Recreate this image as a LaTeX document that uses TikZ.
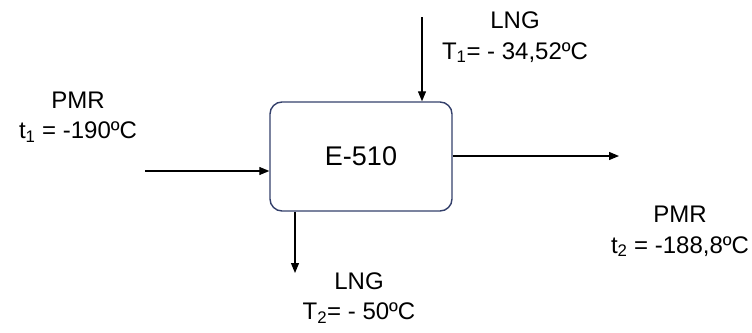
\documentclass[tikz,border=0pt]{standalone}
\usepackage{fontspec}
\setmainfont{Liberation Sans}
\usepackage{tikz}
\usetikzlibrary{arrows.meta}
\definecolor{boxline}{RGB}{52,64,107}
\tikzset{
  hx/.style={draw=boxline, line width=1.4pt, rounded corners=12pt, minimum width=182pt, minimum height=109pt, inner sep=0pt, font=\fontsize{27}{30}\selectfont},
  flow/.style={line width=1.2pt, -{Triangle[length=10pt,width=8pt]}},
  txt/.style={align=center, inner sep=0pt, font=\fontsize{24}{30.5}\selectfont}
}

\begin{document}
\begin{tikzpicture}[x=1pt,y=-1pt]
		\useasboundingbox (0,0) rectangle (752,332);
		\node[hx] (E) at (361,156.5) {E-510};
		\coordinate (in1) at (145,171);
		\coordinate (in2) at (422,17);
		\coordinate (out1) at (619,156);
		\coordinate (out2) at (295,273);
		% corrientes
		\draw[flow] (in1) -- (in1 -| E.west);
		\draw[flow] (in2) -- (in2 |- E.north);
		\draw[flow] (out1 -| E.east) -- (out1);
		\draw[flow] (out2 |- E.south) -- (out2);
		% etiquetas
		\node[txt] (pmr1) at (78,117) {PMR\\t\textsubscript{1} = -190ºC};
		\node[txt] (lng1) at (515,37.5) {LNG\\T\textsubscript{1}= - 34,52ºC};
		\node[txt] (pmr2) at (680,231.5) {PMR\\t\textsubscript{2} = -188,8ºC};
		\node[txt] (lng2) at (359,298) {LNG\\T\textsubscript{2}= - 50ºC};
	\end{tikzpicture}
\end{document}
